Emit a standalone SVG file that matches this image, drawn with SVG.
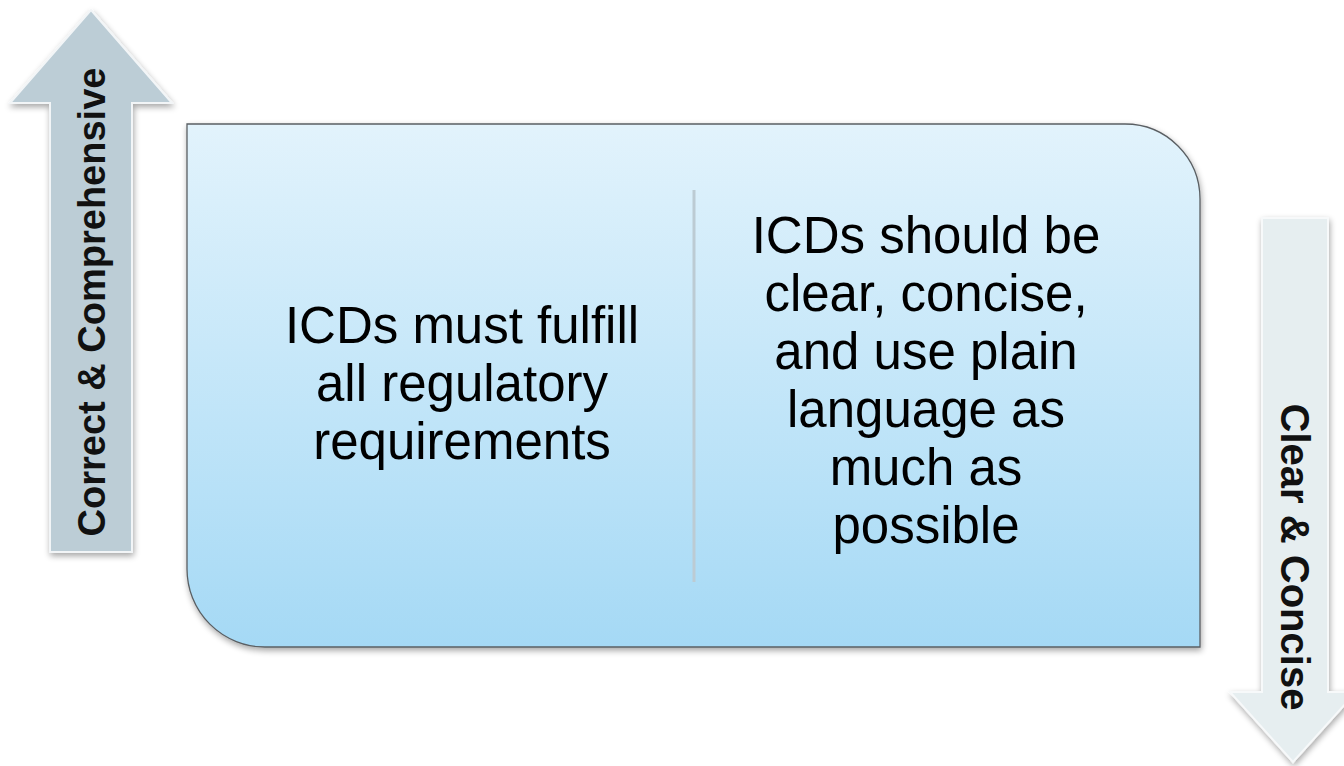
<svg xmlns="http://www.w3.org/2000/svg" width="1344" height="766" viewBox="0 0 1344 766">
<defs>
<linearGradient id="boxg" x1="0" y1="0" x2="0" y2="1">
<stop offset="0" stop-color="#e2f3fc"/>
<stop offset="1" stop-color="#a5d9f5"/>
</linearGradient>
<filter id="sh" x="-10%" y="-10%" width="120%" height="120%">
<feGaussianBlur in="SourceAlpha" stdDeviation="3"/>
<feOffset dx="1" dy="3" result="b"/>
<feComponentTransfer><feFuncA type="linear" slope="0.35"/></feComponentTransfer>
<feMerge><feMergeNode/><feMergeNode in="SourceGraphic"/></feMerge>
</filter>
<style>
.main{font-family:"Liberation Sans",Arial,sans-serif;font-size:51px;fill:#000;text-anchor:middle}
.arr{font-family:"Liberation Sans",Arial,sans-serif;font-weight:bold;font-size:38px;fill:#111;text-anchor:middle}
</style>
</defs>
<rect width="1344" height="766" fill="#ffffff"/>
<g id="up-arrow">
<polygon points="91,10 172,103 132,103 132,552 50,552 50,103 10,103" fill="#bccdd6" stroke="#f2f5f7" stroke-width="2" filter="url(#sh)"/>
<text class="arr" transform="translate(105,302) rotate(-90)">Correct &amp; Comprehensive</text>
</g>
<g id="main-box">
<path d="M187,124 H1125 A75,75 0 0 1 1200,199 V647 H265 A78,78 0 0 1 187,569 Z" fill="url(#boxg)" stroke="#5a5f63" stroke-width="1.3" filter="url(#sh)"/>
<line x1="694" y1="190" x2="694" y2="582" stroke="#bccbd3" stroke-width="3"/>
<g id="left-text">
<text class="main" x="462" y="343">ICDs must fulfill</text>
<text class="main" x="462" y="401">all regulatory</text>
<text class="main" x="462" y="459">requirements</text>
</g>
<g id="right-text">
<text class="main" x="926" y="253">ICDs should be</text>
<text class="main" x="926" y="311">clear, concise,</text>
<text class="main" x="926" y="369">and use plain</text>
<text class="main" x="926" y="427">language as</text>
<text class="main" x="926" y="485">much as</text>
<text class="main" x="926" y="543">possible</text>
</g>
</g>
<g id="down-arrow">
<polygon points="1262,218 1328,218 1328,692 1356,692 1293,762 1230,692 1262,692" fill="#e6eef0" stroke="#f7f9fa" stroke-width="2" filter="url(#sh)"/>
<text class="arr" style="font-size:40px" transform="translate(1281,557) rotate(90)">Clear &amp; Concise</text>
</g>
<g id="connectors"/>
</svg>
